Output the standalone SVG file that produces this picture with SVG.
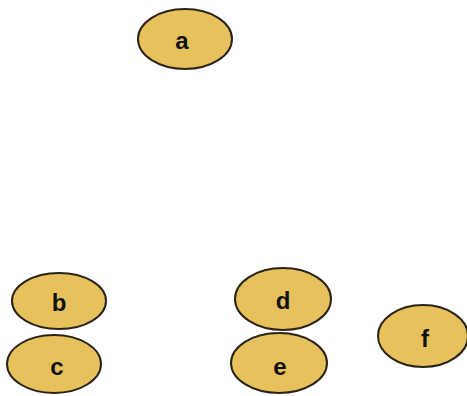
<svg xmlns="http://www.w3.org/2000/svg" width="467" height="396" viewBox="0 0 467 396">
<style>
.n{fill:#E7C25C;stroke:#2a2418;stroke-width:2}
.t{font-family:"Liberation Sans",Arial,sans-serif;font-weight:bold;font-size:24px;fill:#111;text-anchor:middle;dominant-baseline:central}
</style>
<rect width="467" height="396" fill="#ffffff"/>
<g id="connectors"></g>
<g id="a"><ellipse class="n" cx="185" cy="39" rx="47" ry="30"/><text class="t" x="182" y="40">a</text></g>
<g id="b"><ellipse class="n" cx="59" cy="301" rx="47" ry="28"/><text class="t" x="59" y="302">b</text></g>
<g id="c"><ellipse class="n" cx="54" cy="364" rx="47" ry="29"/><text class="t" x="57" y="366">c</text></g>
<g id="d"><ellipse class="n" cx="283" cy="299" rx="48" ry="31"/><text class="t" x="283" y="300">d</text></g>
<g id="e"><ellipse class="n" cx="279" cy="363" rx="48" ry="30"/><text class="t" x="280" y="366">e</text></g>
<g id="f"><ellipse class="n" cx="423" cy="336" rx="45" ry="31"/><text class="t" x="425" y="338">f</text></g>
</svg>
